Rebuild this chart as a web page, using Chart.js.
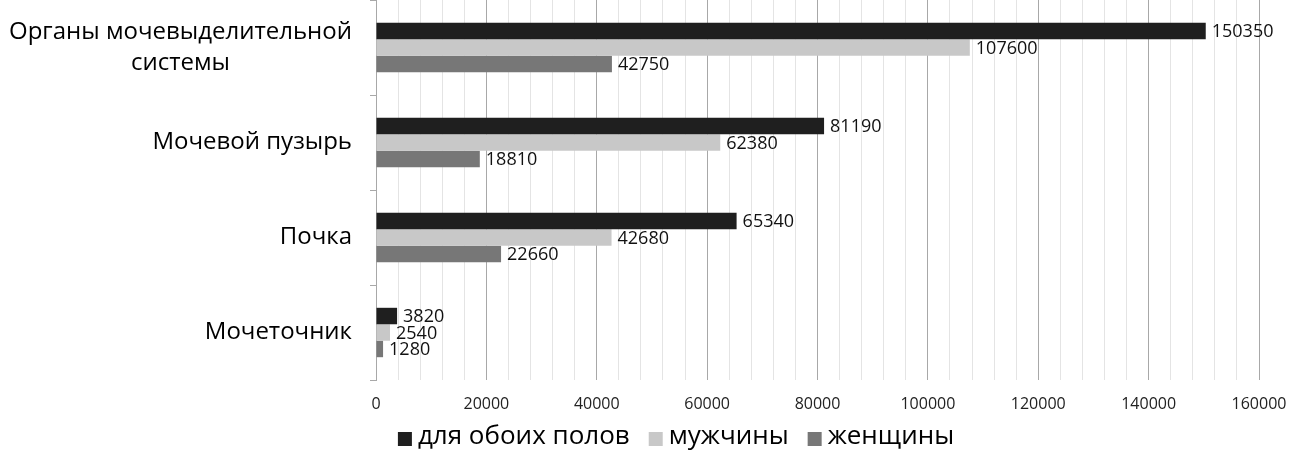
<!DOCTYPE html>
<html>
<head>
<meta charset="utf-8">
<script src="https://cdn.jsdelivr.net/npm/chart.js@4.4.1/dist/chart.umd.min.js"></script>
<style>
    html, body { margin: 0; padding: 0; background: #fff; }
    #wrap { width: 1292px; height: 451px; position: relative; }
</style>
</head>
<body>
<div id="wrap"><canvas id="chart"></canvas></div>
<script>
const categories = [
    ['Органы мочевыделительной', 'системы'],
    ['Мочевой пузырь'],
    ['Почка'],
    ['Мочеточник']
];
const seriesNames = ['для обоих полов', 'мужчины', 'женщины'];
const bothSexes = [150350, 81190, 65340, 3820];
const men = [107600, 62380, 42680, 2540];
const women = [42750, 18810, 22660, 1280];
const seriesColors = ['#1f1f1f', '#c8c8c8', '#777777'];

const FONT = '"Open Sans", "DejaVu Sans", sans-serif';

// подписи значений у конца столбцов
const valueLabels = {
    id: 'valueLabels',
    afterDatasetsDraw(chart) {
        const ctx = chart.ctx;
        ctx.save();
        ctx.font = '18px ' + FONT;
        ctx.fillStyle = '#111';
        ctx.textBaseline = 'middle';
        ctx.textAlign = 'left';
        chart.data.datasets.forEach((ds, i) => {
            chart.getDatasetMeta(i).data.forEach((bar, j) => {
                ctx.fillText(ds.data[j], bar.x + 6, bar.y + 1);
            });
        });
        ctx.restore();
    }
};

// подписи категорий (многострочные, по центру блока, блок прижат вправо)
const categoryLabels = {
    id: 'categoryLabels',
    afterDraw(chart) {
        const ctx = chart.ctx;
        const yScale = chart.scales.y;
        const right = 352;
        const lineH = 31;
        ctx.save();
        ctx.font = '24px ' + FONT;
        ctx.fillStyle = '#000';
        ctx.textBaseline = 'middle';
        ctx.textAlign = 'center';
        categories.forEach((lines, i) => {
            const y = yScale.getPixelForValue(i);
            const w = Math.max(...lines.map(l => ctx.measureText(l).width));
            const cx = right - w / 2;
            lines.forEach((l, k) => {
                ctx.fillText(l, cx, y + (k - (lines.length - 1) / 2) * lineH);
            });
        });
        ctx.restore();
    }
};

// легенда внизу
const bottomLegend = {
    id: 'bottomLegend',
    afterDraw(chart) {
        const ctx = chart.ctx;
        ctx.save();
        ctx.font = '26px ' + FONT;
        ctx.textBaseline = 'middle';
        ctx.textAlign = 'left';
        const box = 14, gapText = 6, gapItem = 19;
        const items = chart.data.datasets.map(ds => ({ text: ds.label, color: ds.backgroundColor, w: ctx.measureText(ds.label).width }));
        const total = items.reduce((s, it) => s + box + gapText + it.w, 0) + gapItem * (items.length - 1);
        let x = 676 - total / 2;
        const y = 437;
        items.forEach(it => {
            ctx.fillStyle = it.color;
            ctx.fillRect(x, y - box / 2 + 2, box, box);
            ctx.fillStyle = '#000';
            ctx.fillText(it.text, x + box + gapText, y);
            x += box + gapText + it.w + gapItem;
        });
        ctx.restore();
    }
};

const data = {
    labels: categories.map(c => c.join(' ')),
    datasets: [
        { label: seriesNames[0], data: bothSexes, backgroundColor: seriesColors[0] },
        { label: seriesNames[1], data: men, backgroundColor: seriesColors[1] },
        { label: seriesNames[2], data: women, backgroundColor: seriesColors[2] }
    ]
};

new Chart(document.getElementById('chart'), {
    type: 'bar',
    data: data,
    options: {
        indexAxis: 'y',
        responsive: true,
        maintainAspectRatio: false,
        animation: false,
        layout: { padding: { left: 0, right: 33, top: 0, bottom: 40 } },
        datasets: {
            bar: { categoryPercentage: 0.52, barPercentage: 1.0 }
        },
        plugins: {
            legend: { display: false },
            tooltip: { enabled: false }
        },
        scales: {
            x: {
                min: 0,
                max: 160000,
                afterFit(scale) {
                    scale.height = 31;
                    scale.paddingLeft = 0;
                    scale.paddingRight = 0;
                },
                ticks: {
                    stepSize: 4000,
                    autoSkip: false,
                    maxRotation: 0,
                    padding: 15,
                    color: '#222',
                    font: { family: FONT, size: 16 },
                    callback: v => (v % 20000 === 0 ? v : '')
                },
                grid: {
                    drawTicks: false,
                    color: ctx => (ctx.tick && ctx.tick.value % 20000 === 0 ? '#a8a8a8' : '#e4e4e4'),
                    lineWidth: 1
                },
                border: { display: false }
            },
            y: {
                afterFit(scale) { scale.width = 376; },
                ticks: { display: false },
                grid: {
                    offset: true,
                    drawOnChartArea: false,
                    drawTicks: true,
                    tickLength: 6,
                    color: '#a8a8a8'
                },
                border: { display: true, color: '#a8a8a8' }
            }
        }
    },
    plugins: [valueLabels, categoryLabels, bottomLegend]
});
</script>
</body>
</html>
